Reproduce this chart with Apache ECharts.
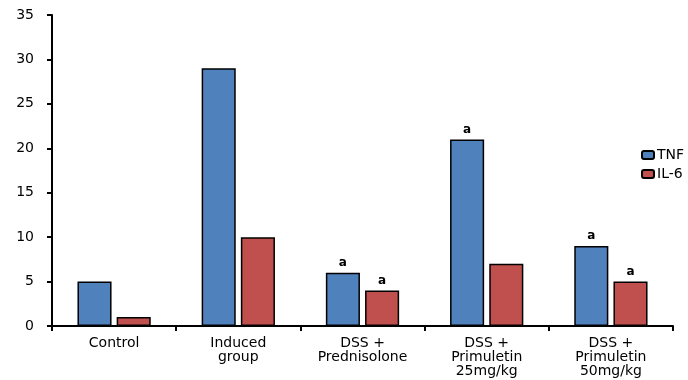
<!DOCTYPE html>
<html>
<head>
<meta charset="utf-8">
<script src="https://cdn.jsdelivr.net/npm/echarts@6/dist/echarts.min.js"></script>
<style>html,body{margin:0;padding:0;background:#fff}#c{width:688px;height:380px}</style>
</head>
<body>
<div id="c"></div>
<script>
const categories = ["Control", "Induced\ngroup", "DSS +\nPrednisolone", "DSS +\nPrimuletin\n25mg/kg", "DSS +\nPrimuletin\n50mg/kg"];
const tnfValues = [5, 29, 6, 21, 9];
const il6Values = [1, 10, 4, 7, 5];
const tnfMarks = ["", "", "a", "a", "a"];
const il6Marks = ["", "", "a", "", "a"];
const seriesNames = ["TNF", "IL-6"];

const font = "DejaVu Sans";
function mk(vals, marks) {
  return vals.map((v, i) => ({ value: v, label: { show: marks[i] !== "", formatter: marks[i] } }));
}
const chart = echarts.init(document.getElementById('c'));
chart.setOption({
  animation: false,
  backgroundColor: '#fff',
  grid: { left: 52, right: 15, top: 15, bottom: 54 },
  legend: {
    orient: 'vertical', left: 636, top: 143,
    itemWidth: 12, itemHeight: 8, itemGap: 5,
    textStyle: { fontFamily: font, fontSize: 14, color: '#000', padding: [0, 0, 0, -2] },
    data: seriesNames
  },
  xAxis: {
    type: 'category', data: categories,
    axisLine: { lineStyle: { color: '#000', width: 2 } },
    axisTick: { show: true, length: 5, lineStyle: { color: '#000', width: 2 } },
    axisLabel: { interval: 0, margin: 10, fontFamily: font, fontSize: 14, color: '#000', lineHeight: 14 }
  },
  yAxis: {
    type: 'value', min: 0, max: 35, interval: 5,
    splitLine: { show: false },
    axisLine: { show: true, lineStyle: { color: '#000', width: 2 } },
    axisTick: { show: true, length: 5, lineStyle: { color: '#000', width: 2 } },
    axisLabel: { margin: 18, fontFamily: font, fontSize: 14, color: '#000' }
  },
  series: [
    {
      name: seriesNames[0], type: 'bar', data: mk(tnfValues, tnfMarks),
      barGap: '15%', barCategoryGap: '41%',
      itemStyle: { color: '#4F81BD', borderColor: '#000', borderWidth: 1.5 },
      label: { position: 'top', distance: 4, fontFamily: font, fontWeight: 'bold', fontSize: 12, color: '#000' }
    },
    {
      name: seriesNames[1], type: 'bar', data: mk(il6Values, il6Marks),
      barGap: '15%', barCategoryGap: '41%',
      itemStyle: { color: '#C0504D', borderColor: '#000', borderWidth: 1.5 },
      label: { position: 'top', distance: 4, fontFamily: font, fontWeight: 'bold', fontSize: 12, color: '#000' }
    }
  ]
});
</script>
</body>
</html>
